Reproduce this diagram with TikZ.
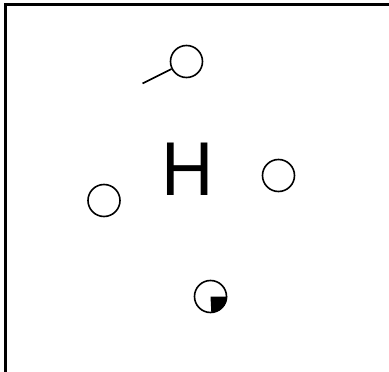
\documentclass[tikz,border=0pt]{standalone}
\usepackage{fontspec}
\setmainfont{TeX Gyre Heros}
\begin{document}
\begin{tikzpicture}[x=1pt,y=-1pt,
    site/.style={draw,circle,line width=1.6pt,minimum size=32pt,inner sep=0pt}]
    \useasboundingbox (0,0) rectangle (389,372);
    %% frame
    \draw[line width=2.4pt] (5.5,372) -- (5.5,4.5) -- (389,4.5);
    %% letter
    \node[inner sep=0pt] (letter) at (187,169) {\fontsize{72}{72}\selectfont H};
    %% sites
    \node[site] (top) at (186.5,61.5) {};
    \node[site] (left) at (104,200.5) {};
    \node[site] (right) at (278.5,175.5) {};
    \node[site] (bottom) at (210.5,296.5) {};
    \fill (bottom.center) -- (bottom.east) arc (0:-90:16pt) -- cycle;
    %% tail
    \coordinate (tail) at (142.5,83.5);
    \draw[line width=1.6pt] (tail) -- (top);
\end{tikzpicture}
\end{document}
